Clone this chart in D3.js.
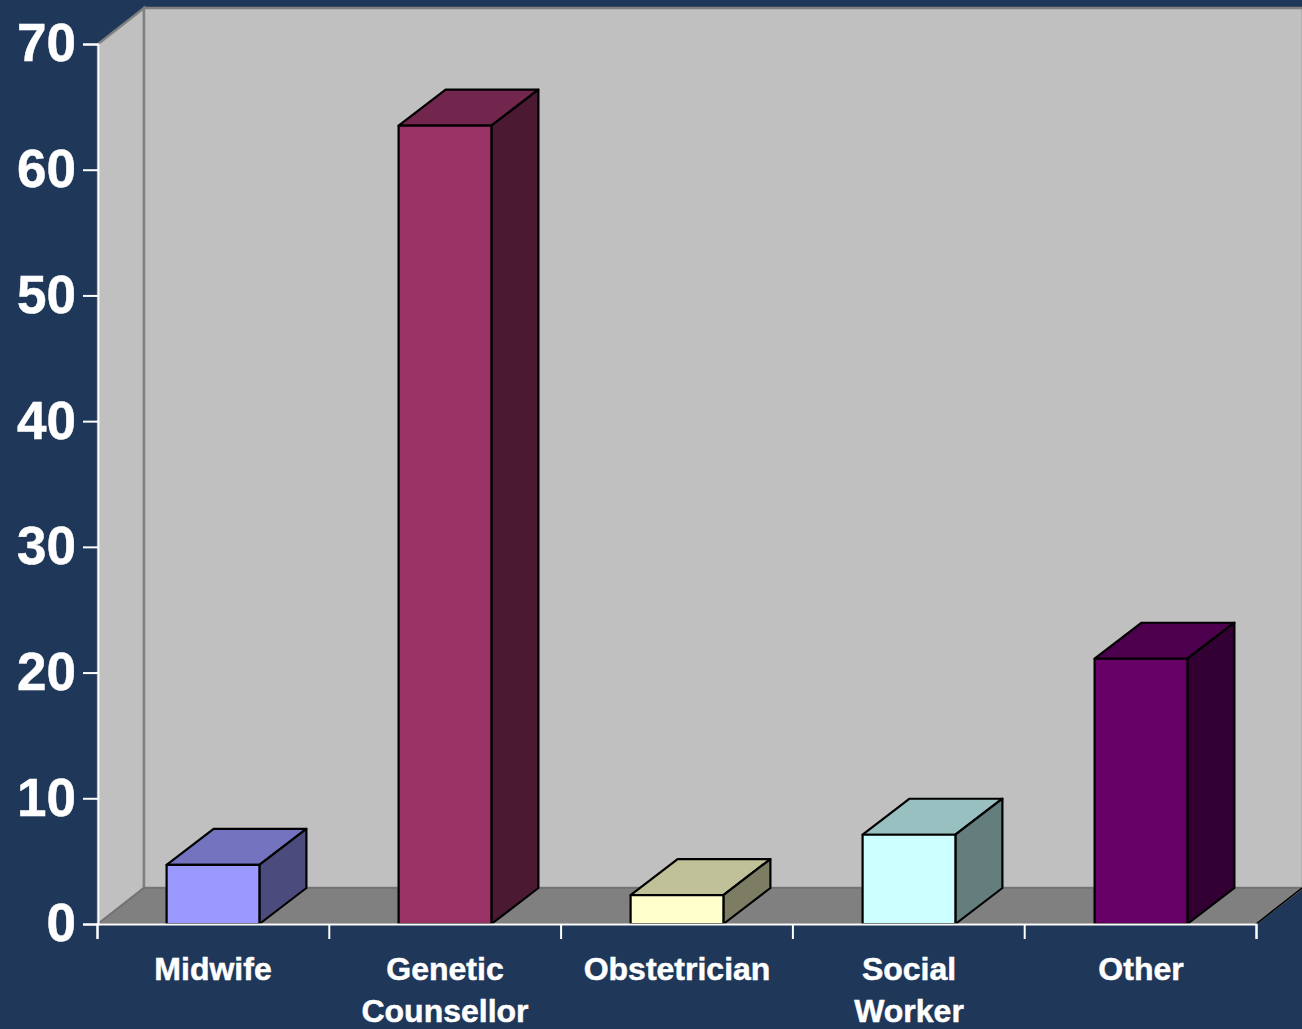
<!DOCTYPE html>
<html>
<head>
<meta charset="utf-8">
<script src="https://cdn.jsdelivr.net/npm/d3@7"></script>
<style>
  html, body { margin: 0; padding: 0; background: #1f3759; overflow: hidden; }
  svg { display: block; }
  text { font-family: "Liberation Sans", Arial, sans-serif; font-weight: bold; fill: #fff; stroke: #fff; stroke-width: 0.5px; }
</style>
</head>
<body>
<svg id="chart" width="1302" height="1029"></svg>
<script>
const categories = ['Midwife', 'Genetic|Counsellor', 'Obstetrician', 'Social|Worker', 'Other'];
const values = [4.7, 63.5, 2.3, 7.1, 21.1];
const colors = ['#9999ff', '#993366', '#ffffcc', '#ccffff', '#660066'];
const yTicks = [0, 10, 20, 30, 40, 50, 60, 70];

const depth = {x: 46, y: -36};
const barDepthX = 47;
const barShare = 0.4;

const svg = d3.select('#chart');
const x = d3.scaleBand().domain(categories).range([97, 1257]);
const y = d3.scaleLinear().domain([0, 70]).range([924, 44]);

const points = p => p.map(d => d.join(',')).join(' ');
const [left, right] = x.range();
const base = y(0), top70 = y(70);
const wallLeft = left + 1;

// walls and floor
const room = svg.append('g');
room.append('polygon').attr('points', points([
    [wallLeft, base], [wallLeft, top70], [wallLeft + depth.x, top70 + depth.y], [wallLeft + depth.x, base + depth.y]
])).attr('fill', '#c0c0c0').attr('stroke', '#808080').attr('stroke-width', 2.5);
room.append('polygon').attr('points', points([
    [wallLeft + depth.x, base + depth.y], [wallLeft + depth.x, top70 + depth.y],
    [right + depth.x, top70 + depth.y], [right + depth.x, base + depth.y]
])).attr('fill', '#c0c0c0').attr('stroke', '#808080').attr('stroke-width', 2.5);
room.append('polygon').attr('points', points([
    [wallLeft, base], [wallLeft + depth.x, base + depth.y], [right + depth.x, base + depth.y], [right - 1, base]
])).attr('fill', '#808080').attr('stroke', '#707070').attr('stroke-width', 1.5);
room.append('line')
    .attr('x1', right - 1).attr('y1', base)
    .attr('x2', right - 1 + depth.x).attr('y2', base + depth.y)
    .attr('stroke', '#000').attr('stroke-width', 1.5);

// bars
const bars = svg.selectAll('.bar').data(categories).enter().append('g').attr('class', 'bar');
const barW = x.step() * barShare;
const x0 = d => x(d) + (x.step() - barW) / 2;
const val = (d, i) => y(values[i]);

bars.append('polygon').attr('fill', (d, i) => d3.rgb(colors[i]).darker(0.8))
    .attr('points', (d, i) => points([
        [x0(d), val(d, i)], [x0(d) + barDepthX, val(d, i) + depth.y],
        [x0(d) + barW + barDepthX, val(d, i) + depth.y], [x0(d) + barW, val(d, i)]
    ]));
bars.append('polygon').attr('fill', (d, i) => d3.rgb(colors[i]).darker(2))
    .attr('points', (d, i) => points([
        [x0(d) + barW, val(d, i)], [x0(d) + barW + barDepthX, val(d, i) + depth.y],
        [x0(d) + barW + barDepthX, base + depth.y], [x0(d) + barW, base]
    ]));
bars.append('rect').attr('fill', (d, i) => colors[i])
    .attr('x', d => x0(d)).attr('y', val)
    .attr('width', barW).attr('height', (d, i) => base - val(d, i));
bars.selectAll('polygon, rect').attr('stroke', '#000').attr('stroke-width', 2.2).attr('stroke-linejoin', 'round');

// axes
const yAxis = svg.append('g').attr('transform', `translate(${wallLeft},0)`)
    .call(d3.axisLeft(y).tickValues(yTicks).tickSize(15).tickPadding(7).tickFormat(d3.format('d')));
yAxis.selectAll('text').style('font-size', '53px');

const edges = d3.range(categories.length + 1);
const xEdge = d3.scaleLinear().domain([0, categories.length]).range([left, right - 1]);
svg.append('g').attr('transform', `translate(0,${base})`)
    .call(d3.axisBottom(xEdge).tickValues(edges).tickSize(15).tickFormat(''));

const xAxis = svg.append('g').attr('transform', `translate(0,${base})`)
    .call(d3.axisBottom(x).tickSize(0).tickFormat(''));
xAxis.select('.domain').remove();
xAxis.selectAll('.tick text')
    .style('font-size', '32px')
    .attr('y', 0)
    .attr('dy', null)
    .each(function (d) {
        const me = d3.select(this);
        d.split('|').forEach((part, i) => {
            me.append('tspan').attr('x', 0).attr('y', 56 + i * 42).text(part);
        });
    });

svg.selectAll('.domain, .tick line').attr('stroke', '#fff').attr('stroke-width', 2);
</script>
</body>
</html>
